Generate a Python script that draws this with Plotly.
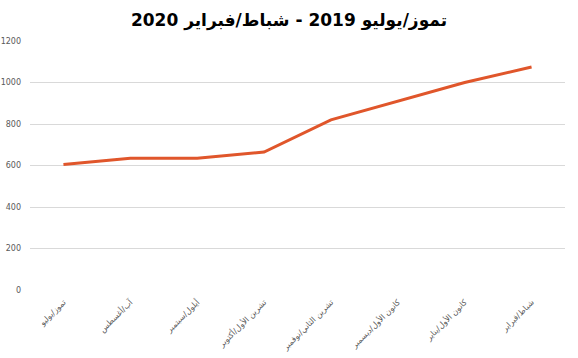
import plotly.graph_objects as go

categories = ["تموز/يوليو", "آب/أغسطس", "أيلول/سبتمبر", "تشرين الأول/أكتوبر",
              "تشرين الثاني/نوفمبر", "كانون الأول/ديسمبر", "كانون الأول/يناير", "شباط/فبراير"]
values = [605, 635, 635, 665, 820, 910, 1000, 1075]
y_ticks = [0, 200, 400, 600, 800, 1000, 1200]
title_text = "تموز/يوليو 2019 - شباط/فبراير 2020"

fig = go.Figure()
fig.add_trace(go.Scatter(x=categories, y=values, mode="lines",
                         line=dict(color="#E0562B", width=3)))
fig.update_layout(
    width=578, height=358,
    margin=dict(l=30, r=13, t=41, b=68, autoexpand=False),
    paper_bgcolor="white", plot_bgcolor="white",
    showlegend=False,
    title=dict(text="<b>" + title_text + "</b>", x=0.5, xanchor="center",
               y=1 - 20 / 358, yanchor="middle",
               font=dict(family="DejaVu Sans", size=17, color="#000000")),
    font=dict(family="DejaVu Sans", color="#595959"),
)
fig.update_xaxes(tickangle=-45, tickfont=dict(size=8, color="#595959"), range=[-0.5, 7.5],
                 showgrid=False, showline=False, ticks="", zeroline=False, automargin=False,
                 ticklabelstandoff=5)
fig.update_yaxes(range=[0, 1200], tickvals=y_ticks, tickfont=dict(size=8, color="#595959"),
                 showgrid=True, gridcolor="#D9D9D9", gridwidth=1, zeroline=False,
                 ticks="", ticklabelstandoff=8, automargin=False)
fig.write_html("out.html", config={"displayModeBar": False},
               post_script="document.body.style.margin='0';document.body.style.overflow='hidden';")
